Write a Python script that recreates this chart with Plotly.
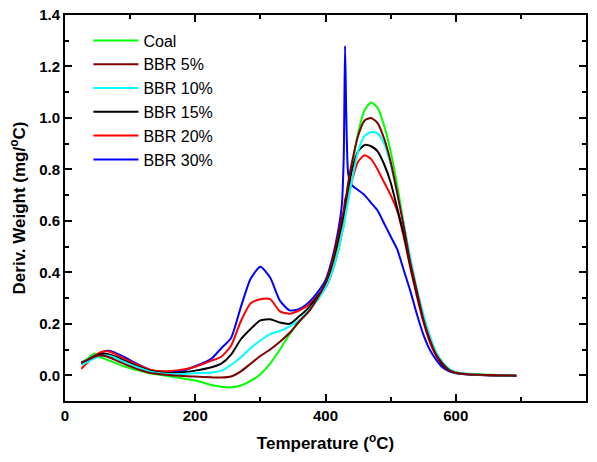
import plotly.graph_objects as go

temperature = [25, 35, 45, 55, 65, 75, 90, 110, 130, 150, 175, 200, 225, 240, 255, 270,
               285, 300, 315, 330, 345, 360, 375, 390, 400, 410, 420, 425, 428, 430, 432,
               435, 440, 450, 460, 470, 480, 490, 500, 510, 520, 530, 540, 550, 560, 570,
               580, 590, 600, 620, 650, 693]

coal = [0.050, 0.065, 0.085, 0.070, 0.060, 0.050, 0.035, 0.020, 0.008, 0.000, -0.010, -0.020,
        -0.038, -0.045, -0.047, -0.040, -0.022, 0.004, 0.045, 0.100, 0.160, 0.210, 0.250, 0.310,
        0.350, 0.420, 0.520, 0.580, 0.620, 0.650, 0.680, 0.720, 0.800, 0.940, 1.030, 1.060,
        1.040, 0.970, 0.870, 0.740, 0.590, 0.450, 0.330, 0.230, 0.145, 0.085, 0.045, 0.022,
        0.012, 0.005, 0.002, 0.000]

bbr5 = [0.048, 0.060, 0.072, 0.077, 0.072, 0.062, 0.045, 0.025, 0.010, 0.003, -0.002, -0.005,
        -0.008, -0.009, -0.005, 0.015, 0.045, 0.075, 0.100, 0.130, 0.165, 0.210, 0.250, 0.310,
        0.360, 0.440, 0.550, 0.610, 0.640, 0.680, 0.700, 0.750, 0.820, 0.930, 0.990, 1.000,
        0.980, 0.920, 0.830, 0.710, 0.580, 0.440, 0.330, 0.220, 0.140, 0.080, 0.045, 0.020,
        0.010, 0.004, 0.001, -0.002]

bbr10 = [0.040, 0.052, 0.066, 0.075, 0.077, 0.070, 0.053, 0.032, 0.015, 0.007, 0.005, 0.008,
         0.011, 0.018, 0.040, 0.070, 0.105, 0.135, 0.160, 0.172, 0.190, 0.215, 0.255, 0.300,
         0.340, 0.400, 0.490, 0.550, 0.580, 0.610, 0.640, 0.680, 0.750, 0.870, 0.930, 0.945,
         0.940, 0.900, 0.820, 0.710, 0.590, 0.460, 0.340, 0.240, 0.155, 0.090, 0.050, 0.025,
         0.012, 0.005, 0.001, -0.001]

bbr15 = [0.045, 0.058, 0.072, 0.082, 0.083, 0.075, 0.058, 0.035, 0.018, 0.010, 0.010, 0.018,
         0.031, 0.045, 0.080, 0.140, 0.180, 0.213, 0.218, 0.205, 0.200, 0.230, 0.265, 0.315,
         0.350, 0.430, 0.530, 0.590, 0.625, 0.660, 0.690, 0.730, 0.790, 0.870, 0.895, 0.890,
         0.870, 0.820, 0.750, 0.650, 0.550, 0.430, 0.320, 0.220, 0.140, 0.080, 0.040, 0.020,
         0.010, 0.004, 0.000, -0.002]

bbr20 = [0.025, 0.050, 0.075, 0.090, 0.093, 0.085, 0.066, 0.042, 0.022, 0.016, 0.020, 0.033,
         0.057, 0.072, 0.115, 0.210, 0.280, 0.295, 0.296, 0.248, 0.239, 0.252, 0.275, 0.315,
         0.340, 0.400, 0.490, 0.550, 0.585, 0.620, 0.650, 0.690, 0.750, 0.830, 0.855, 0.840,
         0.800, 0.750, 0.700, 0.640, 0.540, 0.420, 0.310, 0.210, 0.130, 0.075, 0.040, 0.020,
         0.010, 0.004, 0.000, -0.002]

bbr30 = [0.050, 0.060, 0.075, 0.088, 0.095, 0.090, 0.072, 0.045, 0.022, 0.014, 0.014, 0.035,
         0.065, 0.105, 0.145, 0.265, 0.375, 0.422, 0.380, 0.290, 0.252, 0.258, 0.285, 0.330,
         0.370, 0.450, 0.570, 0.660, 0.850, 1.280, 1.000, 0.780, 0.740, 0.720, 0.700, 0.670,
         0.640, 0.590, 0.540, 0.490, 0.410, 0.330, 0.240, 0.160, 0.100, 0.060, 0.030, 0.015,
         0.008, 0.003, 0.000, -0.002]

names = ["Coal", "BBR 5%", "BBR 10%", "BBR 15%", "BBR 20%", "BBR 30%"]
series = [coal, bbr5, bbr10, bbr15, bbr20, bbr30]
colors = ["#00FF00", "#800000", "#00FFFF", "#000000", "#FF0000", "#0000FF"]

x_ticks = [0, 200, 400, 600, 800]
y_ticks = [0.0, 0.2, 0.4, 0.6, 0.8, 1.0, 1.2, 1.4]

font_family = "Liberation Sans, Arial, sans-serif"

fig = go.Figure()
draw_order = [0, 5, 4, 3, 2, 1]
for i in draw_order:
    fig.add_trace(go.Scatter(
        x=temperature, y=series[i], name=names[i], mode="lines",
        line=dict(color=colors[i], width=2, shape="spline", smoothing=0.6),
        legendrank=i + 1,
    ))

tick_font = dict(family=font_family, size=15, color="black", weight="bold")
title_font = dict(family=font_family, size=17, color="black", weight="bold")

axis_common = dict(
    showgrid=False, zeroline=False, showline=True, linecolor="black", linewidth=2,
    ticks="inside", ticklen=7, tickwidth=1.5, tickcolor="black", automargin=False,
)

fig.update_layout(
    width=597, height=462,
    margin=dict(l=65, r=11, t=15, b=61),
    paper_bgcolor="white", plot_bgcolor="white",
    showlegend=True,
    legend=dict(x=0.045, y=0.978, xanchor="left", yanchor="top",
                bgcolor="rgba(0,0,0,0)", borderwidth=0, itemwidth=45,
                font=dict(family=font_family, size=16, color="black"),
                tracegroupgap=0),
    xaxis=dict(range=[0, 800], tickmode="array", tickvals=x_ticks,
               minor=dict(ticks="inside", ticklen=4, tickwidth=1.5, tickcolor="black", dtick=100, tick0=0),
               tickfont=tick_font,
               title=dict(text="Temperature (<sup>o</sup>C)", standoff=14, font=title_font),
               **axis_common),
    yaxis=dict(range=[-0.1, 1.4], tickmode="array", tickvals=y_ticks, tickformat=".1f",
               minor=dict(ticks="inside", ticklen=4, tickwidth=1.5, tickcolor="black", dtick=0.1, tick0=0),
               tickfont=tick_font,
               title=dict(text="Deriv. Weight (mg/<sup>o</sup>C)", standoff=9, font=title_font),
               **axis_common),
    xaxis2=dict(range=[0, 800], overlaying="x", side="top", tickmode="array", tickvals=x_ticks,
                showticklabels=False,
                minor=dict(ticks="inside", ticklen=4, tickwidth=1.5, tickcolor="black", dtick=100, tick0=0),
                **axis_common),
    yaxis2=dict(range=[-0.1, 1.4], overlaying="y", side="right", tickmode="array", tickvals=y_ticks,
                showticklabels=False,
                minor=dict(ticks="inside", ticklen=4, tickwidth=1.5, tickcolor="black", dtick=0.1, tick0=0),
                **axis_common),
)

# invisible helper trace so the mirrored top/right axes are drawn
fig.add_trace(go.Scatter(x=[0, 800], y=[-0.1, 1.4], xaxis="x2", yaxis="y2", mode="markers",
                         marker=dict(opacity=0), showlegend=False, hoverinfo="skip"))

fig.write_html("out.html")
